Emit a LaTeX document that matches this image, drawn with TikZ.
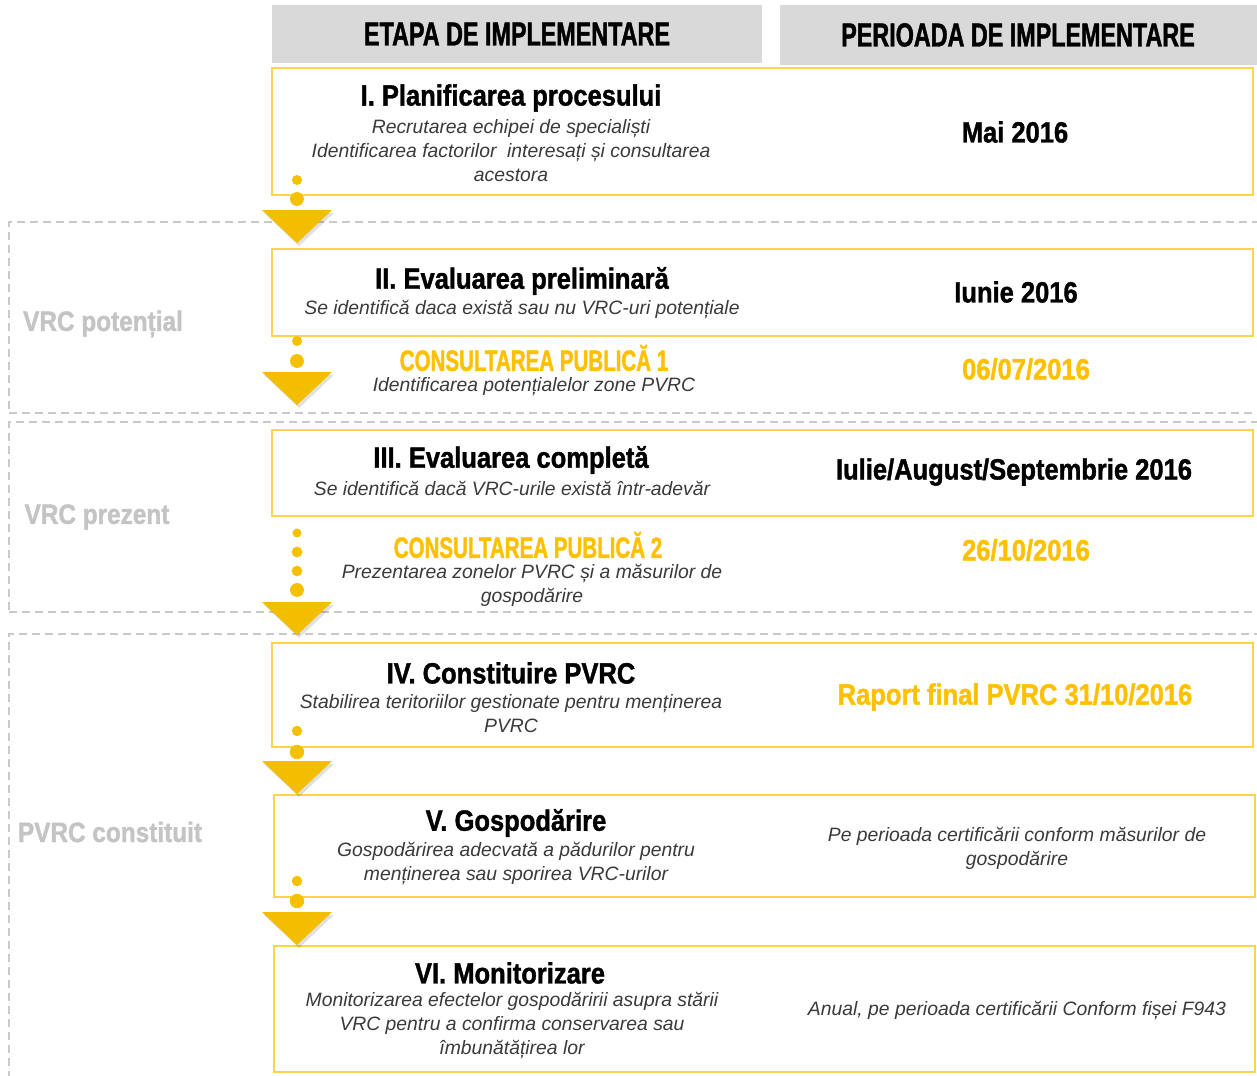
\documentclass[tikz,border=0pt]{standalone}
\usepackage{fontspec}
\setmainfont{Liberation Sans}
\newfontfamily\impact[FakeStretch=0.87,FakeBold=1.3]{Liberation Sans}
\newfontfamily\impactc[FakeStretch=0.70,FakeBold=1.3]{Liberation Sans}
\usetikzlibrary{fit}
\definecolor{boxc}{HTML}{FFD34D}
\definecolor{gold}{HTML}{FFC000}
\definecolor{arrowc}{HTML}{F3BD00}
\definecolor{dotc}{HTML}{F5C000}
\definecolor{hdrc}{HTML}{D9D9D9}
\definecolor{grpc}{HTML}{C9C9C9}
\definecolor{lblc}{HTML}{C4C4C4}
\definecolor{itc}{HTML}{3A3A3A}
\begin{document}
\begin{tikzpicture}[x=0.75pt,y=-0.75pt,
  hdrbox/.style={fill=hdrc, inner sep=0},
  stage/.style={draw=boxc, line width=2.2pt, fill=white, inner sep=0},
  grp/.style={draw=grpc, line width=1.1pt, dash pattern=on 6pt off 3.75pt, inner sep=0},
  hdrtxt/.style={font=\impactc\bfseries\fontsize{25}{28}\selectfont, text=black, inner sep=0},
  ttl/.style={font=\impact\bfseries\fontsize{22}{26}\selectfont, text=black, inner sep=0},
  goldcaps/.style={font=\impactc\bfseries\fontsize{22}{26}\selectfont, text=gold, inner sep=0},
  goldttl/.style={font=\impact\bfseries\fontsize{22}{26}\selectfont, text=gold, inner sep=0},
  desc/.style={font=\itshape\fontsize{14.5}{18}\selectfont, text=itc, align=center, inner sep=0},
  side/.style={font=\impact\bfseries\fontsize{21}{24}\selectfont, text=lblc, inner sep=0},
  tri/.pic={
    \fill[black, opacity=0.12] (-33,3) -- (37,3) -- (2,36) -- cycle;
    \fill[arrowc] (-35,0) -- (35,0) -- (0,33) -- cycle;},
]
\useasboundingbox (0,0) rectangle (1257,1075);
\fill[white] (0,0) rectangle (1257,1075);
\clip (0,0) rectangle (1257,1075);

% group regions
\node[grp, fit={(9,222)(1280,413)}] (g1) {};
\node[grp, fit={(9,422)(1280,612)}] (g2) {};
\node[grp, fit={(9,634)(1280,1100)}] (g3) {};
\node[side] (l1) at (103,324) {VRC potențial};
\node[side] (l2) at (97,517) {VRC prezent};
\node[side] (l3) at (110,832) {PVRC constituit};

% headers
\node[hdrbox, fit={(272,5)(762,63)}] (h1) {};
\node[hdrbox, fit={(780,5)(1260,65)}] (h2) {};
\node[hdrtxt] (h1t) at (h1.center) {ETAPA DE IMPLEMENTARE};
\node[hdrtxt] (h2t) at (1018,35) {PERIOADA DE IMPLEMENTARE};

% stage boxes
\node[stage, fit={(272,68)(1253,195)}] (b1) {};
\node[stage, fit={(272,249)(1253,336)}] (b2) {};
\node[stage, fit={(272,430)(1253,516)}] (b3) {};
\node[stage, fit={(272,643)(1253,747)}] (b4) {};
\node[stage, fit={(274,795)(1255,897)}] (b5) {};
\node[stage, fit={(274,946)(1255,1072)}] (b6) {};

% stage I
\node[ttl] (t1) at (511,98) {I. Planificarea procesului};
\node[desc] (d1) at (511,151) {Recrutarea echipei de specialiști\\Identificarea factorilor\ \ interesați și consultarea\\acestora};
\node[ttl] (p1) at (1015,132) {Mai 2016};

% stage II
\node[ttl] (t2) at (522,281) {II. Evaluarea preliminară};
\node[desc] (d2) at (522,310) {Se identifică daca există sau nu VRC-uri potențiale};
\node[ttl] (p2) at (1016,292) {Iunie 2016};

% consultation 1
\node[goldcaps] (c1) at (534,358) {CONSULTAREA PUBLICĂ 1};
\node[desc] (cd1) at (534,387) {Identificarea potențialelor zone PVRC};
\node[goldttl] (cp1) at (1026,369) {06/07/2016};

% stage III
\node[ttl] (t3) at (511,460) {III. Evaluarea completă};
\node[desc] (d3) at (512,488) {Se identifică dacă VRC-urile există într-adevăr};
\node[ttl] (p3) at (1014,472) {Iulie/August/Septembrie 2016};

% consultation 2
\node[goldcaps] (c2) at (528,545) {CONSULTAREA PUBLICĂ 2};
\node[desc] (cd2) at (532,585) {Prezentarea zonelor PVRC și a măsurilor de\\gospodărire};
\node[goldttl] (cp2) at (1026,550) {26/10/2016};

% stage IV
\node[ttl] (t4) at (511,673) {IV. Constituire PVRC};
\node[desc] (d4) at (511,714) {Stabilirea teritoriilor gestionate pentru menținerea\\PVRC};
\node[goldttl] (p4) at (1015,697) {Raport final PVRC 31/10/2016};

% stage V
\node[ttl] (t5) at (516,823) {V. Gospodărire};
\node[desc] (d5) at (516,864) {Gospodărirea adecvată a pădurilor pentru\\menținerea sau sporirea VRC-urilor};
\node[desc] (p5) at (1017,848) {Pe perioada certificării conform măsurilor de\\gospodărire};

% stage VI
\node[ttl] (t6) at (510,973) {VI. Monitorizare};
\node[desc] (d6) at (512,1026) {Monitorizarea efectelor gospodăririi asupra stării\\VRC pentru a confirma conservarea sau\\îmbunătățirea lor};
\node[desc] (p6) at (1017,1011) {Anual, pe perioada certificării Conform fișei F943};

% flow connectors (dots + triangle heads)
\fill[dotc] (297,180) circle (3.75pt);
\fill[dotc] (297,199) circle (5.2pt);
\pic at (297,210) {tri};

\fill[dotc] (297,341) circle (3.75pt);
\fill[dotc] (297,361) circle (5.2pt);
\pic at (297,372) {tri};

\fill[dotc] (297,533) circle (3.4pt);
\fill[dotc] (297,552) circle (4pt);
\fill[dotc] (297,571) circle (4pt);
\fill[dotc] (297,590) circle (5.2pt);
\pic at (297,602) {tri};

\fill[dotc] (297,731) circle (3.9pt);
\fill[dotc] (297,752) circle (5.4pt);
\pic at (297,761) {tri};

\fill[dotc] (297,881) circle (3.9pt);
\fill[dotc] (297,901) circle (5.4pt);
\pic at (297,912) {tri};
\end{tikzpicture}
\end{document}
